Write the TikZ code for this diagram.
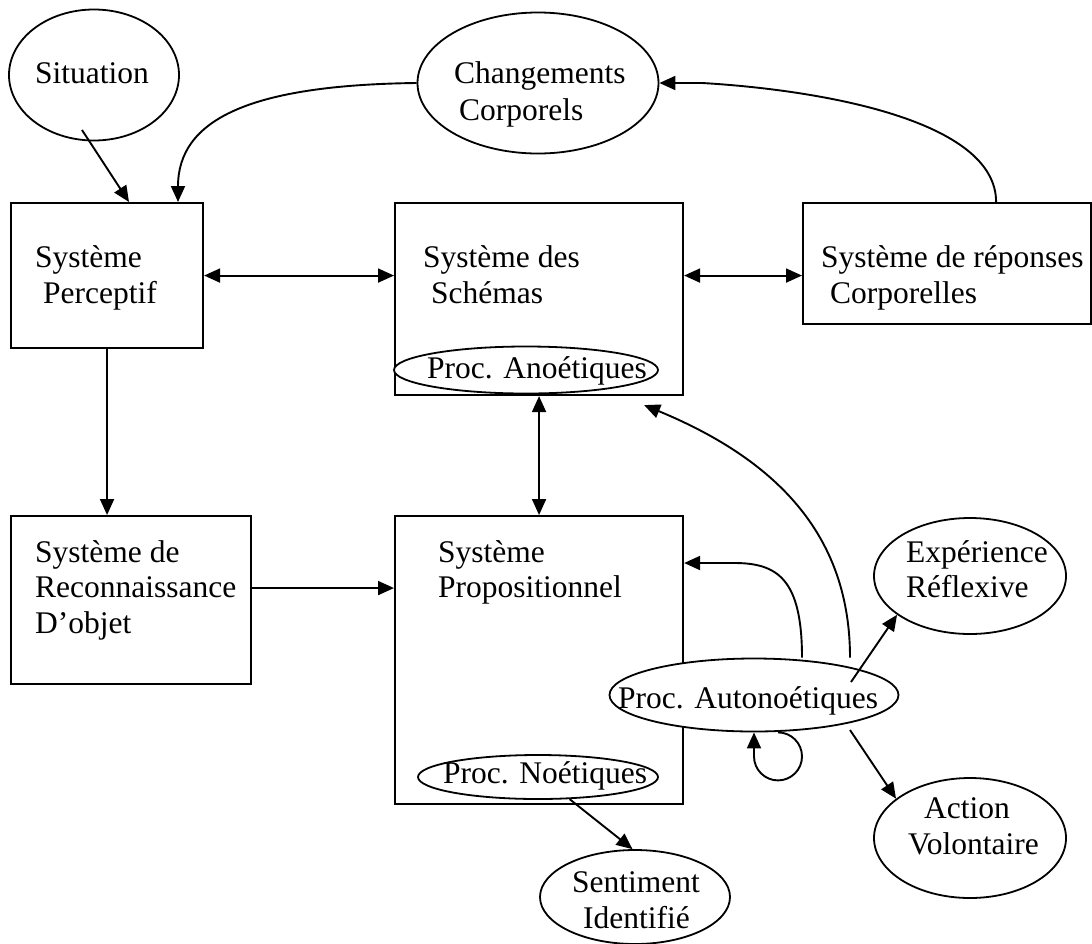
\documentclass[tikz,border=0pt]{standalone}
\usepackage{fontspec}
\setmainfont{Liberation Serif}
\usetikzlibrary{shapes.geometric,arrows.meta,calc}
\tikzset{
  box/.style={draw, line width=2.1pt, rectangle, inner sep=0pt, anchor=north west},
  ell/.style={draw, fill=white, line width=1.8pt, ellipse, inner sep=0pt},
  lbl/.style={inner sep=0pt, anchor=base west, font=\fontsize{31.5}{36}\selectfont},
  conn/.style={line width=1.9pt},
  arr/.style={conn, -{Triangle[length=16pt,width=14pt]}},
  darr/.style={conn, {Triangle[length=16pt,width=14pt]}-{Triangle[length=16pt,width=14pt]}},
}
\begin{document}
\begin{tikzpicture}[x=1pt,y=-1pt]
\useasboundingbox (0,0) rectangle (1092,943);
% boxes
\node[box, minimum width=192pt, minimum height=145pt] (perc) at (10,202) {};
\node[box, minimum width=288pt, minimum height=192pt] (sch) at (394,202) {};
\node[box, minimum width=288pt, minimum height=121pt] (resp) at (802,202) {};
\node[box, minimum width=240pt, minimum height=168pt] (reco) at (10,515) {};
\node[box, minimum width=288pt, minimum height=288pt] (prop) at (394,515) {};
% ellipses
\node[ell, minimum width=170pt, minimum height=131pt] (sit) at (94,75) {};
\node[ell, minimum width=241pt, minimum height=141pt] (chg) at (538,83) {};
\node[ell, minimum width=264pt, minimum height=47pt] (ano) at (526,370) {};
\node[ell, minimum width=240pt, minimum height=44pt] (noe) at (538,777) {};
\node[ell, minimum width=289pt, minimum height=73pt] (auto) at (754,695) {};
\node[ell, minimum width=192pt, minimum height=116pt] (exp) at (970,576) {};
\node[ell, minimum width=192pt, minimum height=120pt] (act) at (970,838) {};
\node[ell, minimum width=190pt, minimum height=94pt] (sent) at (635,897) {};
% texts
\node[lbl] (t-sit) at (35,83) {Situation};
\node[lbl] (t-chg1) at (454,83) {Changements};
\node[lbl] (t-chg2) at (459,120) {Corporels};
\node[lbl] (t-perc1) at (35,267) {Système};
\node[lbl] (t-perc2) at (43,303) {Perceptif};
\node[lbl] (t-sch1) at (423,267) {Système des};
\node[lbl] (t-sch2) at (431,303) {Schémas};
\node[lbl] (t-resp1) at (821,267) {Système de réponses};
\node[lbl] (t-resp2) at (830,303) {Corporelles};
\node[lbl] (t-ano) at (427,378) {Proc. Anoétiques};
\node[lbl] (t-reco1) at (35,562) {Système de};
\node[lbl] (t-reco2) at (35,597) {Reconnaissance};
\node[lbl] (t-reco3) at (35,633) {D’objet};
\node[lbl] (t-prop1) at (438,562) {Système};
\node[lbl] (t-prop2) at (438,597) {Propositionnel};
\node[lbl] (t-noe) at (443,783) {Proc. Noétiques};
\node[lbl] (t-auto) at (618,708) {Proc. Autonoétiques};
\node[lbl] (t-exp1) at (906,562) {Expérience};
\node[lbl] (t-exp2) at (906,597) {Réflexive};
\node[lbl] (t-act1) at (924,818) {Action};
\node[lbl] (t-act2) at (908,854) {Volontaire};
\node[lbl] (t-sent1) at (572,892) {Sentiment};
\node[lbl] (t-sent2) at (583,928) {Identifié};
% connectors
\draw[arr] ([xshift=-12pt,yshift=-55pt]sit.center) -- ([xshift=119pt]perc.north west);
\draw[arr] (chg.west) .. controls +(-168,2) and +(0,-82) .. ([xshift=168pt]perc.north west);
\draw[arr] ([xshift=-96pt]resp.north east) .. controls +(0,-82) and +(118,7) .. ([xshift=43pt]chg.east) -- (chg.east);
\draw[darr] (perc.east) -- (perc.east -| sch.west);
\draw[darr] (sch.east |- perc.east) -- (resp.west |- perc.east);
\draw[arr] (perc.south) -- (perc.south |- reco.north);
\draw[arr] ([yshift=12pt]reco.east) -- ([yshift=12pt]reco.east -| prop.west);
\draw[darr] (sch.south) -- (prop.north);
\draw[arr] ([xshift=48pt]auto.north) .. controls +(0,-79) and +(43,0) .. ([xshift=50pt,yshift=-48pt]prop.north east) -- ([yshift=-48pt]prop.north east);
\draw[arr] ([xshift=96pt]auto.north) .. controls +(0,-118) and +(138,57) .. ([xshift=-40pt,yshift=-9pt]sch.south east);
\draw[arr] ([xshift=97pt,yshift=13pt]auto.center) -- (exp.208);
\draw[arr] ([xshift=96pt,yshift=-35pt]auto.center) -- (act.152);
\draw[arr] (noe.325) -- (sent.93);
\draw[arr] ([xshift=24pt]auto.south) .. controls +(13.25,0) and +(0,-13.25) .. ++(24,24)
  .. controls +(0,13.25) and +(13.25,0) .. ++(-24,24)
  .. controls +(-13.25,0) and +(0,13.25) .. ++(-24,-24) -- (auto.south);
\end{tikzpicture}
\end{document}
